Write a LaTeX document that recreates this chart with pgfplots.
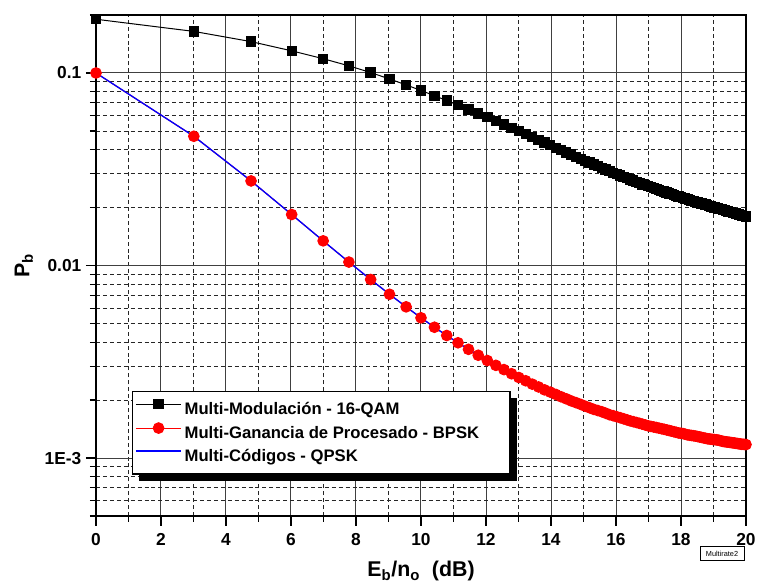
\documentclass[border=0pt]{standalone}
\usepackage{fontspec}
\setmainfont{Liberation Sans}
\usepackage{pgfplots}
\pgfplotsset{compat=1.18}
\usepackage{pgfplotstable}
\usetikzlibrary{shadows}
\makeatletter
\tikzset{no preactions/.code={\let\tikz@preactions\pgfutil@empty}}
\makeatother

% x = Eb/no (dB), qam = 16-QAM, bpsk = BPSK / QPSK
\pgfplotstableread{
x        qam      bpsk
0.0000   0.1901   0.1000
3.0103   0.1644   0.0469
4.7712   0.1455   0.0275
6.0206   0.1303   0.0184
6.9897   0.1186   0.01343
7.7815   0.1089   0.01042
8.4510   0.1005   0.00846
9.0309   0.0931   0.00709
9.5424   0.0867   0.00610
10.0000  0.0811   0.00535
10.4139  0.0762   0.00478
10.7918  0.0719   0.00433
11.1394  0.0681   0.00397
11.4613  0.0647   0.00367
11.7609  0.0617   0.00342
12.0412  0.0589   0.00321
12.3045  0.0564   0.00303
12.5527  0.0541   0.00288
12.7875  0.0519   0.00274
13.0103  0.0500   0.00262
13.2222  0.0482   0.00252
13.4242  0.0465   0.00242
13.6173  0.0449   0.00234
13.8021  0.0436   0.00226
13.9794  0.0422   0.00220
14.1497  0.0409   0.00214
14.3136  0.0397   0.00208
14.4716  0.0387   0.00203
14.6240  0.0377   0.00198
14.7712  0.0367   0.00194
14.9136  0.03585  0.00190
15.0515  0.0350   0.00186
15.1851  0.03425  0.001825
15.3148  0.0335   0.00179
15.4407  0.0328   0.001765
15.5630  0.0321   0.00174
15.6820  0.0315   0.00171
15.7978  0.0309   0.00168
15.9106  0.03035  0.00166
16.0206  0.0298   0.00164
16.1278  0.0293   0.00162
16.2325  0.0288   0.00160
16.3347  0.0284   0.00158
16.4345  0.0280   0.00156
16.5321  0.0276   0.001545
16.6276  0.0272   0.00153
16.7210  0.0268   0.001515
16.8124  0.0264   0.00150
16.9020  0.0261   0.001485
16.9897  0.0258   0.00147
17.0757  0.0255   0.00146
17.1600  0.0252   0.00145
17.2428  0.02495  0.00144
17.3239  0.0247   0.00143
17.4036  0.02445  0.00142
17.4819  0.0242   0.00141
17.5587  0.02395  0.00140
17.6343  0.0237   0.00139
17.7085  0.02345  0.00138
17.7815  0.0232   0.00137
17.8533  0.0230   0.00136
17.9239  0.0228   0.00135
17.9934  0.0226   0.001345
18.0618  0.0224   0.00134
18.1291  0.02225  0.00133
18.1954  0.0221   0.00132
18.2607  0.0219   0.001315
18.3251  0.0217   0.00131
18.3885  0.02155  0.001305
18.4510  0.0214   0.00130
18.5126  0.02127  0.001293
18.5733  0.02113  0.001287
18.6332  0.0210   0.00128
18.6923  0.02087  0.001273
18.7506  0.02073  0.001267
18.8081  0.0206   0.00126
18.8649  0.02043  0.001257
18.9209  0.02027  0.001253
18.9763  0.0201   0.00125
19.0309  0.0200   0.001247
19.0849  0.0199   0.001243
19.1381  0.0198   0.00124
19.1908  0.0197   0.001233
19.2428  0.0196   0.001227
19.2942  0.0195   0.00122
19.3450  0.01937  0.001217
19.3952  0.01923  0.001213
19.4448  0.0191   0.00121
19.4939  0.0190   0.001207
19.5424  0.0189   0.001203
19.5904  0.0188   0.00120
19.6379  0.0187   0.001197
19.6848  0.0186   0.001193
19.7313  0.0185   0.00119
19.7772  0.0184   0.001187
19.8227  0.0183   0.001183
19.8677  0.0182   0.00118
19.9123  0.01813  0.001178
19.9564  0.01807  0.001177
20.0000  0.0180   0.001175
}\pbdata

\begin{document}
\begin{tikzpicture}
\path[use as bounding box] (-72pt,-53.25pt) rectangle (496.5pt,387pt);
\begin{axis}[
    at={(0,0)}, anchor=south west, scale only axis,
    width=487.5pt, height=375.75pt,
    ymode=log,
    xmin=0, xmax=20, ymin=5e-4, ymax=0.2,
    xtick={0,2,...,20}, minor x tick num=1,
    ytick={0.001,0.01,0.1}, yticklabels={1E-3,0.01,0.1},
    minor ytick={5e-4,6e-4,7e-4,8e-4,9e-4,0.002,0.003,0.004,0.005,0.006,0.007,0.008,0.009,0.02,0.03,0.04,0.05,0.06,0.07,0.08,0.09,0.2},
    tick pos=left, tick align=outside,
    major tick length=7.5pt, minor tick length=4.5pt,
    every tick/.style={black, line width=0.9pt},
    grid=both,
    major grid style={black!75, line width=0.75pt},
    minor grid style={black!85, dash pattern=on 3pt off 2.2pt, line width=0.6pt},
    axis line style={black, line width=1.5pt},
    /pgf/number format/assume math mode=true,
    tick label style={font=\bfseries\fontsize{13}{15}\selectfont},
    xticklabel style={yshift=-2pt},
    label style={font=\bfseries\fontsize{16}{18}\selectfont},
    xlabel={E\textsubscript{b}/n\textsubscript{o}~~(dB)},
    ylabel={P\textsubscript{b}},
    xlabel style={at={(axis description cs:0.5,-0.11)}, anchor=center},
    ylabel style={at={(axis description cs:-0.111,0.5)}, anchor=center},
    clip=false,
    legend cell align=left,
    legend image code/.code={\draw[no preactions,mark repeat=2,mark phase=2,#1] plot coordinates {(0cm,4pt) (0.6cm,4pt) (1.2cm,4pt)};},
    legend style={at={(rel axis cs:0.055,0.250)}, anchor=north west,
        draw=black, line width=1.1pt, fill=white,
        font=\bfseries\fontsize{12.5}{14}\selectfont,
        row sep=2.6pt, inner xsep=2pt, inner ysep=6pt,
        drop shadow={shadow xshift=5.25pt, shadow yshift=-5.25pt, fill=black, opacity=1}},
]
\addplot[black, line width=0.75pt, mark=square*, mark size=3.5pt, mark options={solid}]
    table[x=x, y=qam] {\pbdata};
\addlegendentry{Multi-Modulación - 16-QAM}
\addplot[red, line width=0.75pt, mark=*, mark size=4pt, mark options={solid, fill=red}]
    table[x=x, y=bpsk] {\pbdata};
\addlegendentry{Multi-Ganancia de Procesado - BPSK\hspace{19pt}\mbox{}}
\addplot[blue, line width=1pt, mark=none]
    table[x=x, y=bpsk] {\pbdata};
\addlegendentry{Multi-Códigos - QPSK}
\end{axis}
\node[draw, line width=0.5pt, font=\fontsize{5.5}{6}\selectfont, inner sep=1pt,
    minimum width=33pt, minimum height=10.5pt] at (469.5pt,-28.3pt) {Multirate2};
\end{tikzpicture}
\end{document}
